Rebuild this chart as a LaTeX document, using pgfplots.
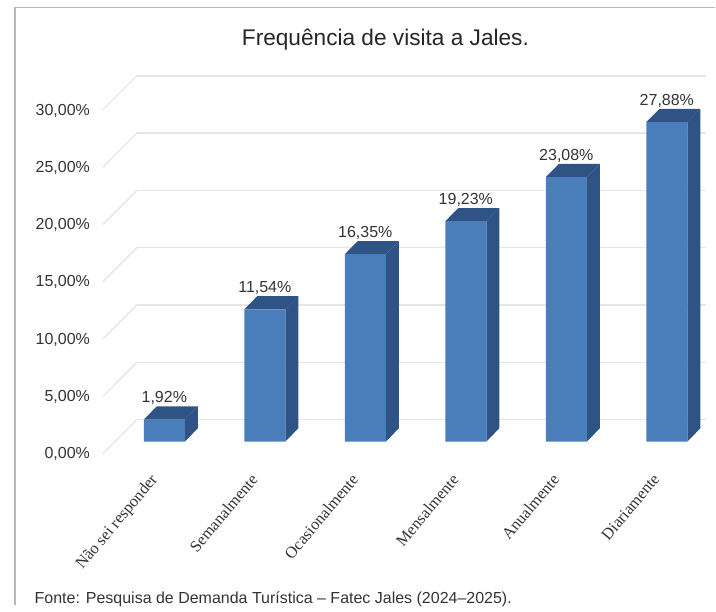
\documentclass[border=0pt]{standalone}
\usepackage{pgfplots}
\pgfplotsset{compat=1.18}
\usepackage{fontspec}
\setmainfont{Liberation Sans}
\newfontfamily\serif{Liberation Serif}
\definecolor{front}{HTML}{4A7EBB}
\definecolor{dark}{HTML}{2E5384}
\definecolor{wall}{HTML}{E6E6E6}
\definecolor{txt}{HTML}{333333}

\begin{document}
\begin{tikzpicture}
\begin{axis}[
    scale only axis,
    width=537pt, height=331.5pt,
    xmin=-1.635, xmax=5.482,
    ymin=0, ymax=38.54,
    clip=false,
    axis line style={draw=none},
    tick style={draw=none},
    xtick={0,1,2,3,4,5},
    xticklabels={N\~ao sei responder,Semanalmente,Ocasionalmente,Mensalmente,Anualmente,Diariamente},
    xticklabel style={font=\serif\fontsize{12.2pt}{14pt}\selectfont, text=txt, rotate=50, anchor=north east, xshift=-21.6pt, yshift=-3pt},
    ytick={0,5,10,15,20,25,30},
    yticklabels={{0,00\%},{5,00\%},{10,00\%},{15,00\%},{20,00\%},{25,00\%},{30,00\%}},
    yticklabel style={font=\fontsize{12pt}{14pt}\selectfont, text=txt, anchor=east, yshift=-9.5pt},
    ytick pos=left,
    yticklabel shift=-71pt,
]
% back wall grid lines
\addplot[wall, line width=1pt, forget plot] coordinates {(-0.273,1.92) (5.393,1.92)};
\addplot[wall, line width=1pt, forget plot] coordinates {(-0.273,6.92) (5.393,6.92)};
\addplot[wall, line width=1pt, forget plot] coordinates {(-0.273,11.92) (5.393,11.92)};
\addplot[wall, line width=1pt, forget plot] coordinates {(-0.273,16.92) (5.393,16.92)};
\addplot[wall, line width=1pt, forget plot] coordinates {(-0.273,21.92) (5.393,21.92)};
\addplot[wall, line width=1pt, forget plot] coordinates {(-0.273,26.92) (5.393,26.92)};
\addplot[wall, line width=1pt, forget plot] coordinates {(-0.273,31.92) (5.393,31.92)};
% side wall grid lines
\addplot[wall, line width=1pt, forget plot] coordinates {(-0.273,1.92) (-0.611,-1.05)};
\addplot[wall, line width=1pt, forget plot] coordinates {(-0.273,6.92) (-0.611,3.95)};
\addplot[wall, line width=1pt, forget plot] coordinates {(-0.273,11.92) (-0.611,8.95)};
\addplot[wall, line width=1pt, forget plot] coordinates {(-0.273,16.92) (-0.611,13.95)};
\addplot[wall, line width=1pt, forget plot] coordinates {(-0.273,21.92) (-0.611,18.95)};
\addplot[wall, line width=1pt, forget plot] coordinates {(-0.273,26.92) (-0.611,23.95)};
\addplot[wall, line width=1pt, forget plot] coordinates {(-0.273,31.92) (-0.611,28.95)};
% side faces
\addplot[fill=dark, draw=none, forget plot] coordinates {(0.204,0) (0.333,1.15) (0.333,3.07) (0.204,1.92)} --cycle;
\addplot[fill=dark, draw=none, forget plot] coordinates {(1.204,0) (1.333,1.15) (1.333,12.69) (1.204,11.54)} --cycle;
\addplot[fill=dark, draw=none, forget plot] coordinates {(2.204,0) (2.333,1.15) (2.333,17.50) (2.204,16.35)} --cycle;
\addplot[fill=dark, draw=none, forget plot] coordinates {(3.204,0) (3.333,1.15) (3.333,20.38) (3.204,19.23)} --cycle;
\addplot[fill=dark, draw=none, forget plot] coordinates {(4.204,0) (4.333,1.15) (4.333,24.23) (4.204,23.08)} --cycle;
\addplot[fill=dark, draw=none, forget plot] coordinates {(5.204,0) (5.333,1.15) (5.333,29.03) (5.204,27.88)} --cycle;
% top faces
\addplot[fill=dark, draw=none, forget plot] coordinates {(-0.204,1.92) (-0.075,3.07) (0.333,3.07) (0.204,1.92)} --cycle;
\addplot[fill=dark, draw=none, forget plot] coordinates {(0.796,11.54) (0.925,12.69) (1.333,12.69) (1.204,11.54)} --cycle;
\addplot[fill=dark, draw=none, forget plot] coordinates {(1.796,16.35) (1.925,17.50) (2.333,17.50) (2.204,16.35)} --cycle;
\addplot[fill=dark, draw=none, forget plot] coordinates {(2.796,19.23) (2.925,20.38) (3.333,20.38) (3.204,19.23)} --cycle;
\addplot[fill=dark, draw=none, forget plot] coordinates {(3.796,23.08) (3.925,24.23) (4.333,24.23) (4.204,23.08)} --cycle;
\addplot[fill=dark, draw=none, forget plot] coordinates {(4.796,27.88) (4.925,29.03) (5.333,29.03) (5.204,27.88)} --cycle;
% front faces
\addplot[ybar, bar width=0.408, fill=front, draw=none,
    nodes near coords={\pgfmathprintnumber[fixed,fixed zerofill,precision=2,use comma,assume math mode=true]{\pgfplotspointmeta}\%},
    nodes near coords style={font=\fontsize{12pt}{14pt}\selectfont, text=txt, anchor=center, yshift=16pt},
    point meta=y,
] coordinates {(0,1.92) (1,11.54) (2,16.35) (3,19.23) (4,23.08) (5,27.88)};
\node[font=\fontsize{17pt}{20pt}\selectfont, text=black!85] at (axis cs:2.2,38.54) [yshift=-30pt] {Frequência de visita a Jales.};
\end{axis}
\node[font=\fontsize{12pt}{14pt}\selectfont, text=txt, anchor=west] at (22.5pt,-118.5pt) {Fonte: Pesquisa de Demanda Turística -- Fatec Jales (2024--2025).};
% frame of the figure, top and left only
\draw[black!28, line width=1.1pt] (11.25pt,-123pt) -- (11.25pt,326pt) -- (537pt,326pt);
\path (0,-123pt) rectangle (537pt,331.5pt);
\end{tikzpicture}
\end{document}
